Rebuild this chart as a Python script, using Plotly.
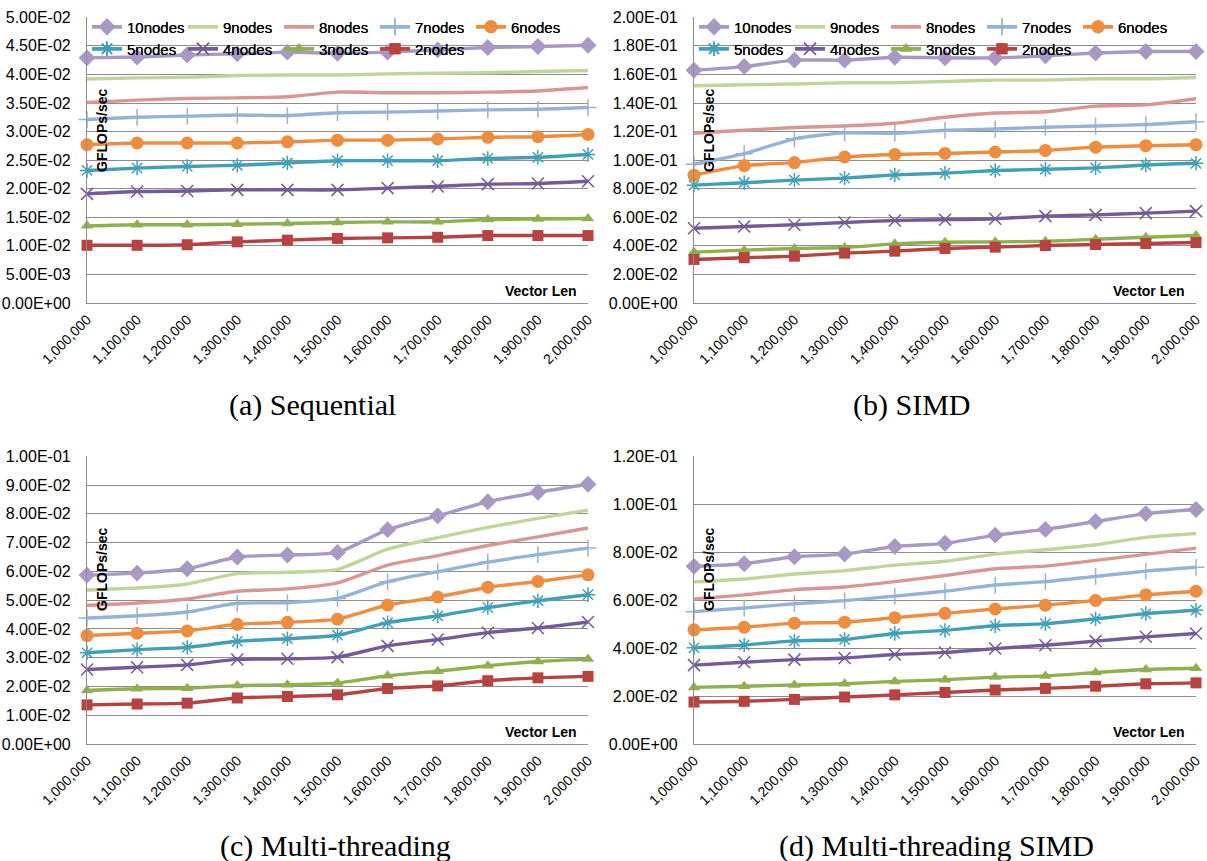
import plotly.graph_objects as go

W, H = 1207, 861

vector_len = [1000000, 1100000, 1200000, 1300000, 1400000, 1500000,
              1600000, 1700000, 1800000, 1900000, 2000000]
x_tick_text = [f"{v:,}" for v in vector_len]

series_names = ["10nodes", "9nodes", "8nodes", "7nodes", "6nodes",
                "5nodes", "4nodes", "3nodes", "2nodes"]

# (a) Sequential  (values in GFLOPs/sec)
seq_10 = [0.0429, 0.04306, 0.0434, 0.0436, 0.0439, 0.0437, 0.0439, 0.0443, 0.0447, 0.0449, 0.0451]
seq_9 = [0.0392, 0.0394, 0.0395, 0.0398, 0.0399, 0.0399, 0.0401, 0.0402, 0.0403, 0.0405, 0.0407]
seq_8 = [0.0351, 0.0355, 0.0358, 0.0359, 0.0361, 0.0369, 0.0368, 0.0368, 0.0369, 0.0371, 0.0377]
seq_7 = [0.0321, 0.0325, 0.0327, 0.0329, 0.0328, 0.0333, 0.0334, 0.0336, 0.0338, 0.0339, 0.0342]
seq_6 = [0.0277, 0.0280, 0.0280, 0.0280, 0.0282, 0.0285, 0.0285, 0.0287, 0.0290, 0.0291, 0.0295]
seq_5 = [0.0232, 0.0236, 0.0239, 0.0241, 0.0245, 0.0249, 0.0249, 0.0249, 0.0253, 0.0255, 0.0260]
seq_4 = [0.0191, 0.0195, 0.0196, 0.0198, 0.0198, 0.0198, 0.0201, 0.0204, 0.0208, 0.0209, 0.0213]
seq_3 = [0.0135, 0.0137, 0.0137, 0.0138, 0.0139, 0.0141, 0.0142, 0.0142, 0.0146, 0.0147, 0.0148]
seq_2 = [0.0101, 0.0101, 0.0102, 0.0107, 0.0110, 0.0113, 0.0114, 0.0115, 0.0118, 0.0118, 0.0118]

# (b) SIMD
simd_10 = [0.1630, 0.1655, 0.1700, 0.1700, 0.1720, 0.1716, 0.1716, 0.1730, 0.1750, 0.1760, 0.1760]
simd_9 = [0.1521, 0.1528, 0.1533, 0.1542, 0.1542, 0.1551, 0.1560, 0.1560, 0.1570, 0.1570, 0.1579]
simd_8 = [0.1188, 0.1209, 0.1228, 0.1239, 0.1258, 0.1300, 0.1330, 0.1339, 0.1378, 0.1387, 0.1430]
simd_7 = [0.0971, 0.1045, 0.1149, 0.1191, 0.1188, 0.1209, 0.1218, 0.1230, 0.1239, 0.1249, 0.1269]
simd_6 = [0.0895, 0.0962, 0.0983, 0.1022, 0.1040, 0.1047, 0.1057, 0.1068, 0.1091, 0.1101, 0.1108]
simd_5 = [0.0825, 0.0842, 0.0860, 0.0874, 0.0897, 0.0909, 0.0927, 0.0936, 0.0946, 0.0966, 0.0978]
simd_4 = [0.0523, 0.0536, 0.0548, 0.0564, 0.0578, 0.0583, 0.0590, 0.0608, 0.0617, 0.0629, 0.0643]
simd_3 = [0.0356, 0.0370, 0.0382, 0.0388, 0.0414, 0.0425, 0.0428, 0.0432, 0.0446, 0.0460, 0.0472]
simd_2 = [0.0305, 0.0317, 0.0328, 0.0349, 0.0363, 0.0382, 0.0391, 0.0402, 0.0409, 0.0416, 0.0423]

# (c) Multi-threading
mt_10 = [0.0587, 0.0594, 0.0609, 0.0650, 0.0657, 0.0666, 0.0745, 0.0793, 0.0842, 0.0875, 0.0903]
mt_9 = [0.0535, 0.0542, 0.0556, 0.0592, 0.0597, 0.0607, 0.0677, 0.0717, 0.0753, 0.0784, 0.0813]
mt_8 = [0.0482, 0.0490, 0.0504, 0.0531, 0.0539, 0.0560, 0.0622, 0.0655, 0.0690, 0.0720, 0.0751]
mt_7 = [0.0438, 0.0446, 0.0459, 0.0489, 0.0491, 0.0506, 0.0564, 0.0599, 0.0632, 0.0658, 0.0681]
mt_6 = [0.0377, 0.0385, 0.0393, 0.0416, 0.0423, 0.0434, 0.0483, 0.0511, 0.0545, 0.0565, 0.0588]
mt_5 = [0.0317, 0.0328, 0.0336, 0.0357, 0.0366, 0.0378, 0.0422, 0.0445, 0.0474, 0.0498, 0.0519]
mt_4 = [0.0259, 0.0267, 0.0275, 0.0294, 0.0296, 0.0302, 0.0341, 0.0363, 0.0387, 0.0403, 0.0424]
mt_3 = [0.0186, 0.0192, 0.0194, 0.0203, 0.0206, 0.0212, 0.0237, 0.0253, 0.0272, 0.0287, 0.0295]
mt_2 = [0.0136, 0.0139, 0.0142, 0.0160, 0.0165, 0.0171, 0.0193, 0.0202, 0.0220, 0.0230, 0.0235]

# (d) Multi-threading SIMD
mts_10 = [0.0741, 0.0752, 0.0781, 0.0792, 0.0824, 0.0837, 0.0871, 0.0895, 0.0928, 0.0961, 0.0978]
mts_9 = [0.0676, 0.0688, 0.0709, 0.0723, 0.0746, 0.0762, 0.0792, 0.0810, 0.0831, 0.0862, 0.0878]
mts_8 = [0.0605, 0.0622, 0.0644, 0.0655, 0.0677, 0.0703, 0.0731, 0.0742, 0.0766, 0.0791, 0.0817]
mts_7 = [0.0552, 0.0567, 0.0585, 0.0598, 0.0617, 0.0637, 0.0663, 0.0677, 0.0699, 0.0721, 0.0737]
mts_6 = [0.0476, 0.0487, 0.0504, 0.0508, 0.0527, 0.0545, 0.0563, 0.0579, 0.0599, 0.0622, 0.0637]
mts_5 = [0.0401, 0.0413, 0.0430, 0.0436, 0.0461, 0.0474, 0.0493, 0.0502, 0.0522, 0.0544, 0.0558]
mts_4 = [0.0329, 0.0341, 0.0352, 0.0359, 0.0373, 0.0382, 0.0398, 0.0412, 0.0429, 0.0447, 0.0461]
mts_3 = [0.0236, 0.0241, 0.0246, 0.0251, 0.0261, 0.0268, 0.0279, 0.0284, 0.0298, 0.0311, 0.0316]
mts_2 = [0.0175, 0.0178, 0.0186, 0.0196, 0.0205, 0.0215, 0.0225, 0.0232, 0.0241, 0.0251, 0.0255]

panels = [
    dict(title="(a) Sequential", ymax=0.05, dtick=0.005,
         data=[seq_10, seq_9, seq_8, seq_7, seq_6, seq_5, seq_4, seq_3, seq_2]),
    dict(title="(b) SIMD", ymax=0.2, dtick=0.02,
         data=[simd_10, simd_9, simd_8, simd_7, simd_6, simd_5, simd_4, simd_3, simd_2]),
    dict(title="(c) Multi-threading", ymax=0.1, dtick=0.01,
         data=[mt_10, mt_9, mt_8, mt_7, mt_6, mt_5, mt_4, mt_3, mt_2]),
    dict(title="(d) Multi-threading SIMD", ymax=0.12, dtick=0.02,
         data=[mts_10, mts_9, mts_8, mts_7, mts_6, mts_5, mts_4, mts_3, mts_2]),
]

# styles
colors = ["#A898C4", "#C0D59A", "#D99694", "#95B3D7", "#F08C3E",
          "#3FA0B8", "#735A9A", "#8FB04C", "#B8423F"]
symbols = ["diamond", None, None, "cross-thin-open", "circle",
           "asterisk-open", "x-thin-open", "triangle-up", "square"]
msizes = [13, 0, 0, 12, 13, 12, 12, 11, 11]

# pixel geometry of plot areas: (left, right, top, bottom) and caption centre x
boxes = [(87, 588, 17, 303), (694, 1196, 17, 303),
         (87, 588, 456, 744), (694, 1196, 456, 744)]
caption_cx = [312, 912, 335, 936]

fig = go.Figure()
font_sans = "Liberation Sans"
grid_col = "#8C8C8C"

for p, (panel, box) in enumerate(zip(panels, boxes)):
    l, r, t, b = box
    ax = "" if p == 0 else str(p + 1)
    xa, ya = "x" + ax, "y" + ax
    leg1 = "legend" if p == 0 else f"legend{2 * p + 1}"
    leg2 = f"legend{2 * p + 2}"
    for i, (name, vals) in enumerate(zip(series_names, panel["data"])):
        sym = symbols[i]
        marker = dict(color=colors[i], size=msizes[i])
        if sym is not None:
            marker["symbol"] = sym
            if "open" in sym:
                marker["line"] = dict(color=colors[i], width=1.5)
        fig.add_trace(go.Scatter(
            x=vector_len, y=vals, name=name,
            mode="lines+markers" if sym else "lines",
            line=dict(color=colors[i], width=3.4, shape="spline", smoothing=0.6),
            marker=marker, cliponaxis=False,
            xaxis=xa, yaxis=ya,
            legend=leg1 if i < 5 else leg2,
        ))
    yt = [round(k * panel["dtick"], 6) for k in range(int(round(panel["ymax"] / panel["dtick"])) + 1)]
    ytt = [f"{v:.2E}" for v in yt]
    fig.layout["xaxis" + ax] = dict(
        domain=[l / W, r / W], anchor=ya, range=[1000000, 2000000],
        tickvals=vector_len, ticktext=x_tick_text, tickangle=-45,
        tickfont=dict(family=font_sans, size=14, color="#000"),
        showgrid=False, showline=True, linecolor=grid_col, linewidth=1.2,
        zeroline=False, ticks="", ticklabelstandoff=2, fixedrange=True,
        automargin=False,
    )
    fig.layout["yaxis" + ax] = dict(
        domain=[1 - b / H, 1 - t / H], anchor=xa, range=[0, panel["ymax"] * 1.001],
        tickvals=yt, ticktext=ytt,
        tickfont=dict(family=font_sans, size=16, color="#000"),
        showgrid=True, gridcolor=grid_col, gridwidth=1,
        showline=True, linecolor=grid_col, linewidth=1.2,
        zeroline=False, ticks="", ticklabelstandoff=12, fixedrange=True,
        automargin=False,
    )
    # legends (two rows)
    for key, yy in ((leg1, 27), (leg2, 49)):
        fig.layout[key] = dict(
            x=l / W, y=1 - yy / H, xanchor="left", yanchor="middle",
            orientation="h", bgcolor="rgba(0,0,0,0)", borderwidth=0,
            entrywidth=51, entrywidthmode="pixels", itemwidth=30,
            font=dict(family=font_sans, size=15, color="#000"),
            tracegroupgap=0,
        )
    # axis titles inside the plot
    fig.add_annotation(
        text="<b>GFLOPs/sec</b>", textangle=-90, xref="paper", yref="paper",
        x=(l + 15) / W, y=1 - (t + 114) / H, showarrow=False,
        xanchor="center", yanchor="middle",
        font=dict(family=font_sans, size=14, color="#000"),
    )
    fig.add_annotation(
        text="<b>Vector Len</b>", xref="paper", yref="paper",
        x=(r - 47) / W, y=1 - (b - 12) / H, showarrow=False,
        xanchor="center", yanchor="middle",
        font=dict(family=font_sans, size=14, color="#000"),
    )
    # caption
    fig.add_annotation(
        text=panel["title"], xref="paper", yref="paper",
        x=caption_cx[p] / W, y=1 - (b + 102) / H, showarrow=False,
        xanchor="center", yanchor="middle",
        font=dict(family="Liberation Serif", size=30, color="#000"),
    )

fig.update_layout(
    width=W, height=H, margin=dict(l=0, r=0, t=0, b=0, autoexpand=False),
    paper_bgcolor="white", plot_bgcolor="white", showlegend=True,
)

fig.write_html("out.html")
